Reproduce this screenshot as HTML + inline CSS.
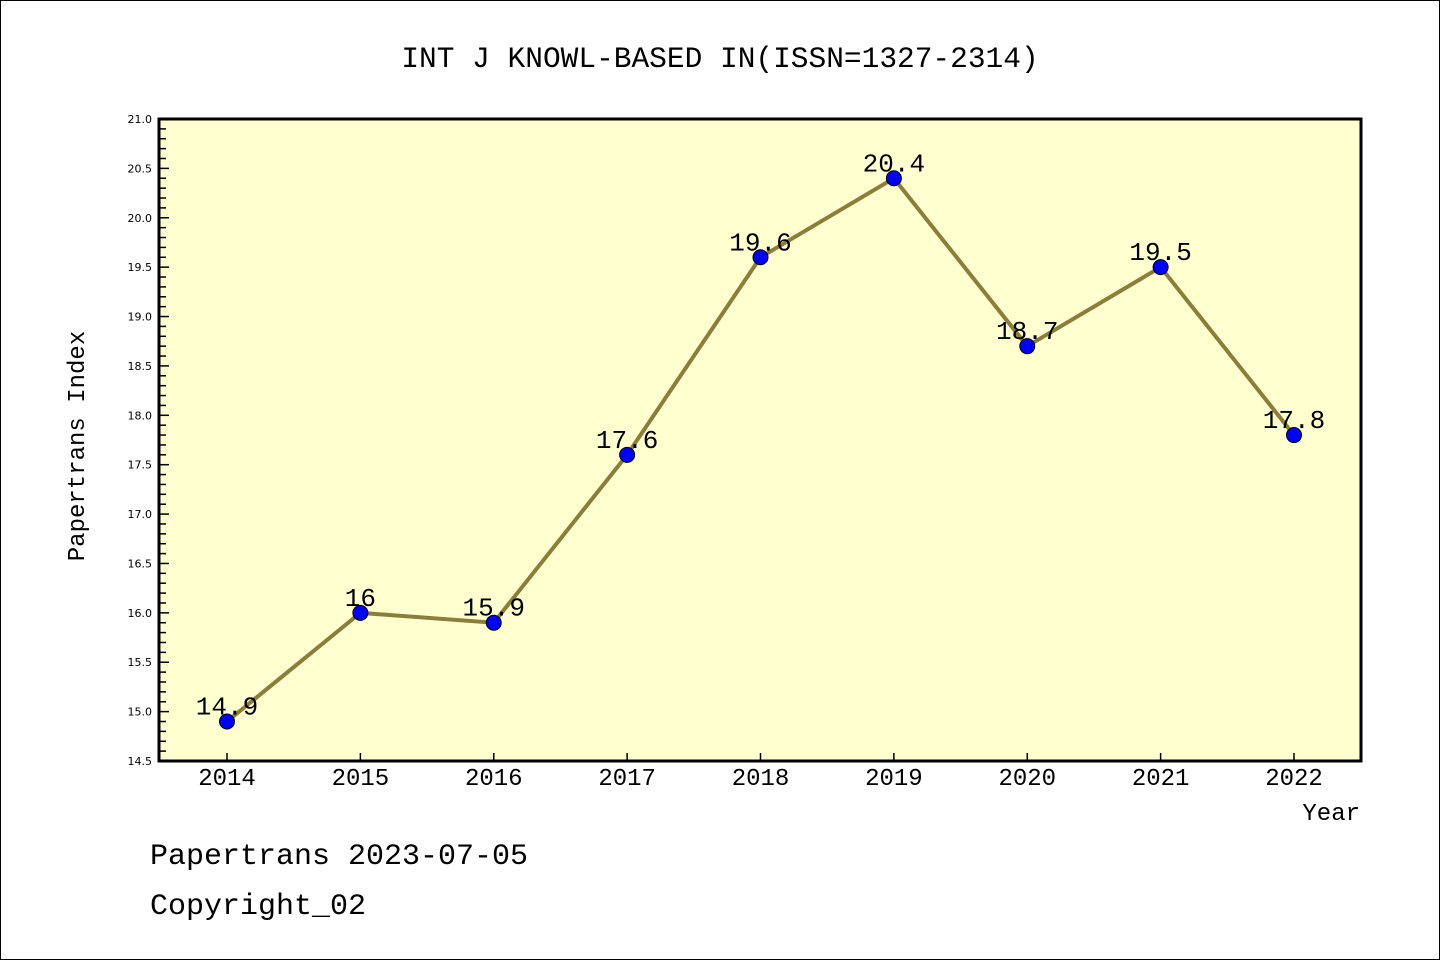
<!DOCTYPE html>
<html><head><meta charset="utf-8"><style>
body{margin:0;background:#fff}
svg{display:block}
text{font-family:"Liberation Mono","Noto Sans CJK SC",monospace;fill:#000}
</style></head><body>
<svg width="1440" height="960" xmlns="http://www.w3.org/2000/svg" id="chart">
<rect x="0.5" y="0.5" width="1439" height="959" fill="#fff" stroke="#000"/>
<text x="720" y="67" text-anchor="middle" font-size="29.5">INT J KNOWL-BASED IN(ISSN=1327-2314)</text>
<rect x="159" y="119" width="1202" height="642" fill="#ffffd0"/>
<g id="yaxis"></g>
<g id="xaxis"></g>
<g id="series"></g>
<rect x="159" y="119" width="1202" height="642" fill="none" stroke="#000" stroke-width="3"/>
<text transform="translate(84,446) rotate(-90)" text-anchor="middle" font-size="24">Papertrans Index</text>
<text x="1360" y="820" text-anchor="end" font-size="24">Year</text>
<text x="150" y="864" font-size="30">Papertrans 2023-07-05</text>
<text x="150" y="914" font-size="30">Copyright_02</text>
</svg>
<script>
const years=["2014","2015","2016","2017","2018","2019","2020","2021","2022"];
const values=[14.9,16,15.9,17.6,19.6,20.4,18.7,19.5,17.8];
const labels=["14.9","16","15.9","17.6","19.6","20.4","18.7","19.5","17.8"];
const yTicks=["14.5","15.0","15.5","16.0","16.5","17.0","17.5","18.0","18.5","19.0","19.5","20.0","20.5","21.0"];
{
const NS="http://www.w3.org/2000/svg";
const yMin=14.5,yMax=21.0,plotTop=119,plotBot=761,plotLeft=159;
const y=v=>plotBot-(v-yMin)/(yMax-yMin)*(plotBot-plotTop);
const x=i=>227+i*(1294-227)/(years.length-1);
function mk(t,a,p){const e=document.createElementNS(NS,t);for(const k in a)e.setAttribute(k,a[k]);p.appendChild(e);return e;}
const ya=document.getElementById('yaxis');
for(let k=0;k<=Math.round((yMax-yMin)*10);k++){
  const v=yMin+k*0.1, major=k%5===0;
  const l=mk('line',{x1:plotLeft,x2:plotLeft+(major?10:7),y1:y(v),y2:y(v),stroke:'#000','stroke-width':1.5},ya);
  
  
}
yTicks.forEach(t=>{
  const e=mk('text',{x:152,y:y(parseFloat(t))+4,'text-anchor':'end','font-size':11,style:'font-family:"DejaVu Sans",sans-serif'},ya);
  e.textContent=t;
  
  
});
const xa=document.getElementById('xaxis');
years.forEach((yr,i)=>{
  const l=mk('line',{x1:x(i),x2:x(i),y1:plotBot,y2:plotBot-8,stroke:'#000','stroke-width':1.5},xa);
  
  
  const t=mk('text',{x:x(i),y:785,'text-anchor':'middle','font-size':24},xa);
  t.textContent=yr;
  
  
});
const s=document.getElementById('series');
const pl=mk('polyline',{points:values.map((v,i)=>x(i)+','+y(v)).join(' '),fill:'none',stroke:'#8b7d3a','stroke-width':4},s);


values.forEach((v,i)=>{
  const c=mk('circle',{cx:x(i),cy:y(v),r:7.5,fill:'#0000ff',stroke:'#000','stroke-width':1},s);
  
  
  const t=mk('text',{x:x(i),y:y(v)-7,'text-anchor':'middle','font-size':26},s);
  t.textContent=labels[i];
  
  
});
}
</script>
</body></html>
